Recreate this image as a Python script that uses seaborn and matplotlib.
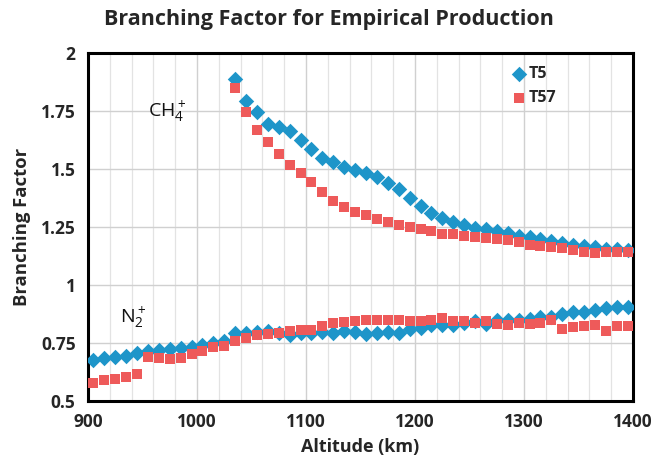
import matplotlib
matplotlib.use("Agg")
import matplotlib.pyplot as plt
from matplotlib.ticker import MultipleLocator
import seaborn as sns
import pandas as pd

# ---- data ----
alt_n2 = [905, 915, 925, 935, 945, 955, 965, 975, 985, 995,
          1005, 1015, 1025, 1035, 1045, 1055, 1065, 1075, 1085, 1095,
          1105, 1115, 1125, 1135, 1145, 1155, 1165, 1175, 1185, 1195,
          1205, 1215, 1225, 1235, 1245, 1255, 1265, 1275, 1285, 1295,
          1305, 1315, 1325, 1335, 1345, 1355, 1365, 1375, 1385, 1395]
t5_n2 = [0.677, 0.684, 0.688, 0.694, 0.705, 0.714, 0.720, 0.723, 0.728, 0.734,
         0.741, 0.751, 0.759, 0.792, 0.794, 0.797, 0.803, 0.792, 0.786, 0.792,
         0.794, 0.796, 0.794, 0.802, 0.796, 0.790, 0.792, 0.796, 0.794, 0.809,
         0.816, 0.826, 0.829, 0.826, 0.835, 0.846, 0.832, 0.849, 0.849, 0.849,
         0.852, 0.863, 0.863, 0.875, 0.884, 0.884, 0.892, 0.899, 0.906, 0.906]
t57_n2 = [0.579, 0.591, 0.596, 0.605, 0.615, 0.691, 0.687, 0.682, 0.685, 0.703,
          0.717, 0.731, 0.737, 0.759, 0.773, 0.783, 0.787, 0.792, 0.802, 0.805,
          0.806, 0.823, 0.837, 0.842, 0.846, 0.848, 0.849, 0.849, 0.849, 0.846,
          0.846, 0.849, 0.858, 0.845, 0.845, 0.835, 0.843, 0.832, 0.828, 0.838,
          0.832, 0.835, 0.849, 0.812, 0.818, 0.823, 0.829, 0.803, 0.825, 0.825]

alt_ch4 = [1035, 1045, 1055, 1065, 1075, 1085, 1095, 1105, 1115, 1125,
           1135, 1145, 1155, 1165, 1175, 1185, 1195, 1205, 1215, 1225,
           1235, 1245, 1255, 1265, 1275, 1285, 1295, 1305, 1315, 1325,
           1335, 1345, 1355, 1365, 1375, 1385, 1395]
t5_ch4 = [1.888, 1.794, 1.744, 1.693, 1.682, 1.662, 1.625, 1.588, 1.549, 1.529,
          1.507, 1.496, 1.484, 1.464, 1.438, 1.412, 1.373, 1.341, 1.312, 1.287,
          1.273, 1.257, 1.246, 1.240, 1.234, 1.225, 1.211, 1.205, 1.197, 1.190,
          1.180, 1.174, 1.168, 1.163, 1.157, 1.154, 1.151]
t57_ch4 = [1.849, 1.744, 1.668, 1.616, 1.563, 1.517, 1.481, 1.443, 1.401, 1.361,
           1.338, 1.315, 1.300, 1.283, 1.272, 1.260, 1.250, 1.240, 1.232, 1.222,
           1.218, 1.211, 1.207, 1.203, 1.200, 1.194, 1.187, 1.174, 1.168, 1.163,
           1.159, 1.151, 1.144, 1.139, 1.142, 1.141, 1.141]

series_names = ["T5", "T57"]
title = "Branching Factor for Empirical Production"
xlabel = "Altitude (km)"
ylabel = "Branching Factor"

# ---- build table ----
rows = []
for a, v in zip(alt_n2, t5_n2):
    rows.append(("T5", "N2", a, v))
for a, v in zip(alt_ch4, t5_ch4):
    rows.append(("T5", "CH4", a, v))
for a, v in zip(alt_n2, t57_n2):
    rows.append(("T57", "N2", a, v))
for a, v in zip(alt_ch4, t57_ch4):
    rows.append(("T57", "CH4", a, v))
df = pd.DataFrame(rows, columns=["Flyby", "Ion", "Altitude", "BF"])

sns.set_theme(style="white")
plt.rcParams["font.family"] = ["Open Sans", "DejaVu Sans"]
plt.rcParams["mathtext.default"] = "regular"

fig = plt.figure(figsize=(6.52, 4.70), dpi=100)
ax = fig.add_axes([0.135, 0.147, 0.836, 0.740])

blue = "#1E95C9"
red = "#EE5A5A"
sizes_map = {"T5": 62, "T57": 46}
markers_map = {"T5": "D", "T57": "s"}
colors = {"T5": blue, "T57": red}
for name in series_names:
    sub = df[df["Flyby"] == name]
    sns.scatterplot(data=sub, x="Altitude", y="BF", ax=ax, color=colors[name],
                    marker=markers_map[name], s=sizes_map[name], linewidth=0,
                    label=name, zorder=3)

ax.set_xlim(900, 1400)
ax.set_ylim(0.5, 2.0)
ax.xaxis.set_major_locator(MultipleLocator(100))
ax.xaxis.set_minor_locator(MultipleLocator(20))
ax.yaxis.set_major_locator(MultipleLocator(0.25))
ax.yaxis.set_minor_locator(MultipleLocator(0.05))
ax.set_yticks([0.5, 0.75, 1.0, 1.25, 1.5, 1.75, 2.0])
ax.set_yticklabels(["0.5", "0.75", "1", "1.25", "1.5", "1.75", "2"])

ax.grid(which="major", axis="both", color="#d0d0d0", linewidth=1.0, zorder=0)
ax.grid(which="minor", axis="x", color="#e3e3e3", linewidth=0.9, zorder=0)
ax.set_axisbelow(True)

for sp in ax.spines.values():
    sp.set_visible(True)
    sp.set_color("black")
    sp.set_linewidth(2.2)

ax.tick_params(axis="both", which="major", direction="inout", length=10, width=2,
               color="black", labelsize=12.5, pad=4)
ax.tick_params(axis="both", which="minor", direction="in", length=5, width=1.6,
               color="black")
ax.tick_params(axis="x", which="both", top=False)
ax.tick_params(axis="y", which="both", right=False)
for lab in ax.get_xticklabels() + ax.get_yticklabels():
    lab.set_fontweight("bold")

ax.set_xlabel(xlabel, fontsize=13, fontweight="bold", labelpad=5)
ax.set_ylabel(ylabel, fontsize=13.3, fontweight="bold", labelpad=7)
fig.text(0.505, 0.958, title, ha="center", va="center", fontsize=15.5,
         fontweight="bold")

ax.text(955, 1.745, r"CH$_4^+$", fontsize=14, ha="left", va="center",
        color="#111111", fontweight="medium")
ax.text(929, 0.86, r"N$_2^+$", fontsize=14, ha="left", va="center",
        color="#111111", fontweight="medium")

leg = ax.legend(loc="upper left", bbox_to_anchor=(0.765, 0.982), frameon=False,
                handletextpad=0.1, handlelength=1.0, borderaxespad=0,
                labelspacing=0.5, prop={"weight": "bold", "size": 11.5})

fig.savefig("out.png", dpi=100)
